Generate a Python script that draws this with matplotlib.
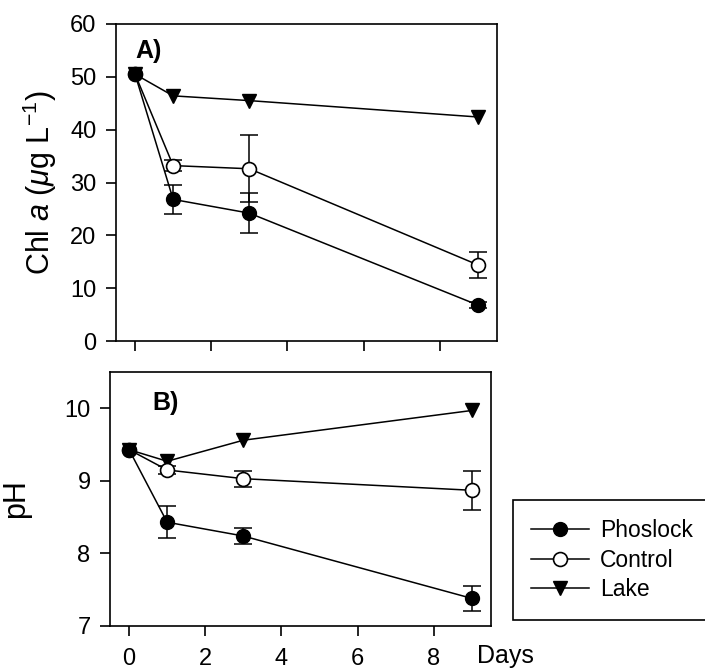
import numpy as np
import matplotlib
matplotlib.use("Agg")
from matplotlib import pyplot as plt

plt.rcParams['font.family'] = ['Liberation Sans', 'DejaVu Sans']
plt.rcParams['mathtext.fontset'] = 'custom'
plt.rcParams['mathtext.rm'] = 'Liberation Sans'
plt.rcParams['mathtext.it'] = 'Liberation Sans:italic'

days = [0, 1, 3, 9]
series = ["Phoslock", "Control", "Lake"]

# panel A: chlorophyll a (ug/L)
chl_phoslock = [50.5, 26.8, 24.2, 6.8]
chl_phoslock_err = [0, 2.7, 3.8, 0.6]
chl_control = [50.5, 33.2, 32.6, 14.4]
chl_control_err = [0, 1.0, 6.3, 2.5]
chl_lake = [50.5, 46.4, 45.5, 42.4]
chl_lake_err = [0, 0, 0, 0]

# panel B: pH
ph_phoslock = [9.43, 8.43, 8.24, 7.38]
ph_phoslock_err = [0, 0.22, 0.11, 0.17]
ph_control = [9.43, 9.15, 9.03, 8.87]
ph_control_err = [0, 0.05, 0.11, 0.27]
ph_lake = [9.43, 9.27, 9.56, 9.97]
ph_lake_err = [0, 0, 0, 0]

styles = {
    "Phoslock": dict(marker="o", mfc="black", mec="black", ms=10, zorder=5),
    "Control": dict(marker="o", mfc="white", mec="black", ms=10, mew=1.2, zorder=4),
    "Lake": dict(marker="v", mfc="black", mec="black", ms=10.5, zorder=3),
}

fig = plt.figure(figsize=(7.05, 6.7), dpi=100)
axA = fig.add_axes([116/705, 1-341/670, 381/705, 317/670])
axB = fig.add_axes([110/705, 1-626/670, 381/705, 254/670])

def draw(ax, vals, errs):
    handles = []
    for name, v, e in zip(series, vals, errs):
        e = np.array(e)
        if e.any():
            ax.errorbar(days, v, yerr=np.where(e > 0, e, np.nan), fmt="none", ecolor="black",
                        capsize=6.5, elinewidth=1.1, capthick=1.1)
        h, = ax.plot(days, v, color="black", lw=1.1, **styles[name], label=name)
        handles.append(h)
    ax.set_xlim(-0.5, 9.5)
    ax.set_xticks([0, 2, 4, 6, 8])
    for s in ["top", "right", "left", "bottom"]:
        ax.spines[s].set_linewidth(1.2)
    ax.tick_params(direction="out", length=7, width=1.2, labelsize=17, pad=7, top=False, right=False)
    ax.tick_params(axis="x", pad=9)
    return handles

draw(axA, [chl_phoslock, chl_control, chl_lake], [chl_phoslock_err, chl_control_err, chl_lake_err])
axA.set_ylim(0, 60)
axA.set_yticks(np.arange(0, 61, 10))
axA.tick_params(axis="x", labelbottom=False)
axA.set_ylabel(r"Chl $\it{a}$ ($\it{\mu}$g L$^{-1}$)", fontsize=22, labelpad=8)
axA.text(0, 54.8, "A)", fontsize=18, fontweight="bold", va="center", ha="left")

handles = draw(axB, [ph_phoslock, ph_control, ph_lake], [ph_phoslock_err, ph_control_err, ph_lake_err])
axB.set_ylim(7, 10.5)
axB.set_yticks([7, 8, 9, 10])
axB.set_ylabel("pH", fontsize=22, labelpad=24)
axB.text(0.62, 10.07, "B)", fontsize=18, fontweight="bold", va="center", ha="left")
fig.text(477/705, 1-663/670, "Days", fontsize=18, va="baseline", ha="left")

leg = fig.legend(handles=handles, labels=series,
                 loc="upper left", bbox_to_anchor=(513/705, 1-501/670, 200/705, 0.001),
                 mode="expand", fontsize=16.5, frameon=True, fancybox=False,
                 edgecolor="black", framealpha=1, borderaxespad=0,
                 handlelength=2.5, handletextpad=0.5, labelspacing=0.3, borderpad=0.8)
leg.get_frame().set_linewidth(1.2)

fig.savefig("out.png", dpi=100)
